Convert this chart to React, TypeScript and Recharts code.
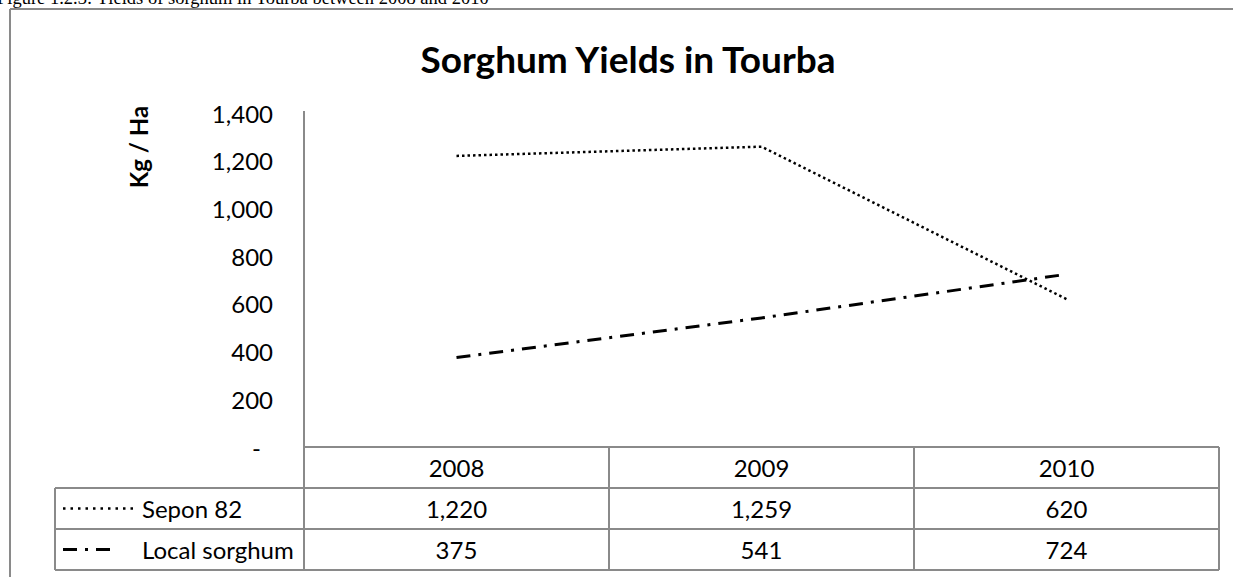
import React from 'react';
import { LineChart, Line, XAxis, YAxis } from 'recharts';

const categories = ['2008', '2009', '2010'];
const seponValues = [1220, 1259, 620];
const localValues = [375, 541, 724];
const yTicks = [0, 200, 400, 600, 800, 1000, 1200, 1400];
const seriesNames = ['Sepon 82', 'Local sorghum'];
const chartTitle = 'Sorghum Yields in Tourba';
const yAxisTitle = 'Kg / Ha';
const caption = 'Figure 1.2.3: Yields of sorghum in Tourba between 2008 and 2010';

const data = categories.map((c, i) => ({ year: c, sepon: seponValues[i], local: localValues[i] }));

const W = 1233;
const H = 577;
const PLOT_LEFT = 304;
const PLOT_RIGHT = 1219;
const PLOT_TOP = 113;
const ZERO_Y = 447;
const FONT = 'Lato, "Open Sans", sans-serif';
const GRID = '#8a8a8a';
const FS = 24;

const SEPON_DASH = '2.5 3';
const LOCAL_DASH = '14 8 3 8';

const fmt = (v: number) => v.toLocaleString('en-US');

const YTick = (props: any) => {
  const { x, y, payload } = props;
  const v = payload.value as number;
  if (v === 0) {
    return (
      <text x={x - 12} y={y} textAnchor="end" dominantBaseline="central" fontFamily={FONT} fontSize={FS} fill="#000">
        -
      </text>
    );
  }
  return (
    <text x={x} y={y} textAnchor="end" dominantBaseline="central" fontFamily={FONT} fontSize={FS} fill="#000">
      {fmt(v)}
    </text>
  );
};

export default function App() {
  const colW = (PLOT_RIGHT - PLOT_LEFT) / categories.length;
  const rowTop = [ZERO_Y, 488, 529];
  const rowBottom = 570;
  const legendLeft = 55;
  const rows = [
    { name: seriesNames[0], values: seponValues, dash: '2.5 5', width: 2.5, x2: 133 },
    { name: seriesNames[1], values: localValues, dash: LOCAL_DASH, width: 3, x2: 112 },
  ];
  return (
    <div style={{ position: 'absolute', left: 0, top: 0, width: W, height: H, background: '#fff', overflow: 'hidden' }}>
      <div style={{ position: 'absolute', left: 0, top: 0 }}>
        <LineChart
          width={W}
          height={H}
          data={data}
          margin={{ top: PLOT_TOP, bottom: H - ZERO_Y, left: PLOT_LEFT - 60, right: W - PLOT_RIGHT }}
        >
          <XAxis
            dataKey="year"
            hide
            padding={{ left: colW / 2, right: colW / 2 }}
          />
          <YAxis
            width={60}
            domain={[0, 1400]}
            ticks={yTicks}
            interval={0}
            axisLine={false}
            tickLine={false}
            tickSize={6}
            tickMargin={25}
            tick={<YTick />}
          />
          <Line
            dataKey="sepon"
            name={seriesNames[0]}
            stroke="#000"
            strokeWidth={2.5}
            strokeDasharray={SEPON_DASH}
            dot={false}
            activeDot={false}
            type="linear"
            isAnimationActive={false}
          />
          <Line
            dataKey="local"
            name={seriesNames[1]}
            stroke="#000"
            strokeWidth={3}
            strokeDasharray={LOCAL_DASH}
            dot={false}
            activeDot={false}
            type="linear"
            isAnimationActive={false}
          />
        </LineChart>
      </div>
      <svg width={W} height={H} style={{ position: 'absolute', left: 0, top: 0, pointerEvents: 'none' }}>
        <text x={-3} y={4} fontFamily='"Liberation Serif", "Times New Roman", serif' fontSize={18.5} fill="#000">
          {caption}
        </text>
        <line x1={10} y1={9} x2={W} y2={9} stroke={GRID} strokeWidth={2} />
        <line x1={10} y1={9} x2={10} y2={H} stroke={GRID} strokeWidth={2} />
        <text x={628} y={58} textAnchor="middle" dominantBaseline="central" fontFamily={FONT} fontWeight="bold" fontSize={37} fill="#000">
          {chartTitle}
        </text>
        <text
          x={138}
          y={147}
          transform="rotate(-90 138 147)"
          textAnchor="middle"
          dominantBaseline="central"
          fontFamily={FONT}
          fontWeight="bold"
          fontSize={24}
          fill="#000"
        >
          {yAxisTitle}
        </text>
        <line x1={PLOT_LEFT} y1={111} x2={PLOT_LEFT} y2={rowBottom} stroke={GRID} strokeWidth={2} />
        <line x1={PLOT_LEFT} y1={ZERO_Y} x2={PLOT_RIGHT} y2={ZERO_Y} stroke={GRID} strokeWidth={2} />
        {[rowTop[1], rowTop[2], rowBottom].map((y) => (
          <line key={y} x1={legendLeft} y1={y} x2={PLOT_RIGHT} y2={y} stroke={GRID} strokeWidth={2} />
        ))}
        <line x1={legendLeft} y1={rowTop[1]} x2={legendLeft} y2={rowBottom} stroke={GRID} strokeWidth={2} />
        {categories.map((c, i) => (
          <line
            key={'v' + c}
            x1={PLOT_LEFT + colW * (i + 1)}
            y1={ZERO_Y}
            x2={PLOT_LEFT + colW * (i + 1)}
            y2={rowBottom}
            stroke={GRID}
            strokeWidth={2}
          />
        ))}
        {categories.map((c, i) => (
          <text
            key={'h' + c}
            x={PLOT_LEFT + colW * (i + 0.5)}
            y={(rowTop[0] + rowTop[1]) / 2}
            textAnchor="middle"
            dominantBaseline="central"
            fontFamily={FONT}
            fontSize={FS}
            fill="#000"
          >
            {c}
          </text>
        ))}
        {rows.map((r, ri) => {
          const top = rowTop[ri + 1];
          const bot = ri + 2 < rowTop.length ? rowTop[ri + 2] : rowBottom;
          const cy = (top + bot) / 2;
          return (
            <g key={r.name}>
              <line x1={63} y1={cy} x2={r.x2} y2={cy} stroke="#000" strokeWidth={r.width} strokeDasharray={r.dash} />
              <text x={142} y={cy} dominantBaseline="central" fontFamily={FONT} fontSize={FS} fill="#000">
                {r.name}
              </text>
              {r.values.map((v, i) => (
                <text
                  key={i}
                  x={PLOT_LEFT + colW * (i + 0.5)}
                  y={cy}
                  textAnchor="middle"
                  dominantBaseline="central"
                  fontFamily={FONT}
                  fontSize={FS}
                  fill="#000"
                >
                  {fmt(v)}
                </text>
              ))}
            </g>
          );
        })}
      </svg>
    </div>
  );
}
